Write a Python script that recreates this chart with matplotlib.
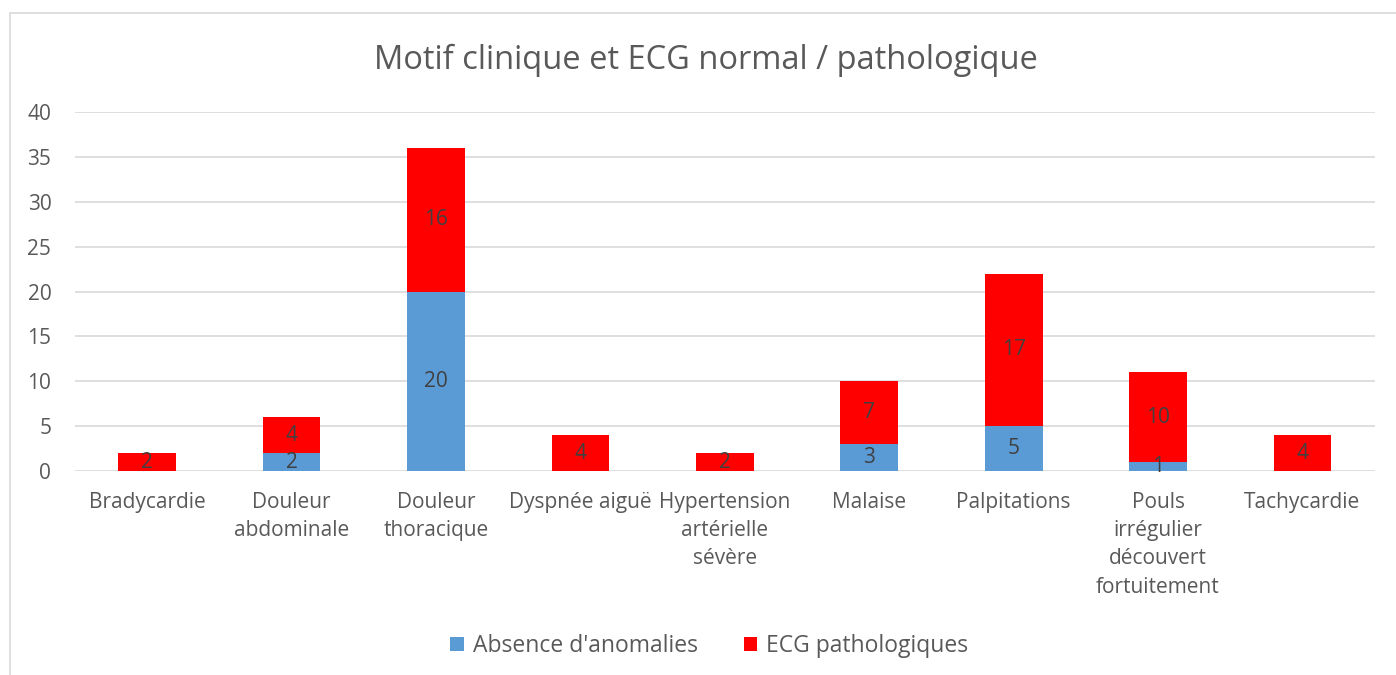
import matplotlib
matplotlib.use("Agg")
import matplotlib.pyplot as plt
from matplotlib.patches import Rectangle

categories = ["Bradycardie", "Douleur\nabdominale", "Douleur\nthoracique", "Dyspnée aiguë",
              "Hypertension\nartérielle\nsévère", "Malaise", "Palpitations",
              "Pouls\nirrégulier\ndécouvert\nfortuitement", "Tachycardie"]
normal = [0, 2, 20, 0, 0, 3, 5, 1, 0]
patho = [2, 4, 16, 4, 2, 7, 17, 10, 4]

plt.rcParams["font.family"] = ["Open Sans", "DejaVu Sans"]
text_col = "#595959"

fig = plt.figure(figsize=(13.96, 6.75), dpi=100)
ax = fig.add_axes([0.0537, 0.302, 0.931, 0.532])

# chart frame like the spreadsheet export
fig.patches.append(Rectangle((10 / 1396, -0.1), 1.2, 1 - 13 / 675 + 0.1,
                             transform=fig.transFigure, fill=False,
                             edgecolor="#D9D9D9", linewidth=1.2))

x = list(range(len(categories)))
b1 = ax.bar(x, normal, width=0.4, color="#5B9BD5", label="Absence d'anomalies", zorder=3)
b2 = ax.bar(x, patho, width=0.4, bottom=normal, color="#FF0000", label="ECG pathologiques", zorder=3)

for bars, vals in ((b1, normal), (b2, patho)):
    for rect, v in zip(bars, vals):
        if v == 0:
            continue
        ax.text(rect.get_x() + rect.get_width() / 2, rect.get_y() + rect.get_height() / 2,
                str(v), ha="center", va="center", fontsize=15, color="#404040", zorder=4)

ax.set_xlim(-0.5, len(categories) - 0.5)
ax.set_ylim(0, 40)
ax.set_yticks(range(0, 41, 5))
ax.set_xticks(x)
ax.set_xticklabels(categories, linespacing=1.45)
ax.tick_params(axis="both", length=0, labelsize=15, colors=text_col)
ax.tick_params(axis="x", pad=15)
ax.tick_params(axis="y", pad=17)
ax.grid(axis="y", color="#D9D9D9", linewidth=1.2, zorder=0)
for s in ax.spines.values():
    s.set_visible(False)

fig.text(0.506, 0.91, "Motif clinique et ECG normal / pathologique",
         ha="center", va="center", fontsize=23.5, color=text_col)

fig.legend(loc="center", bbox_to_anchor=(0.508, 0.043), ncol=2, frameon=False,
           fontsize=16.5, labelcolor=text_col, handlelength=0.6, handleheight=0.6,
           columnspacing=2.0, handletextpad=0.4)

fig.savefig("out.png", dpi=100)
